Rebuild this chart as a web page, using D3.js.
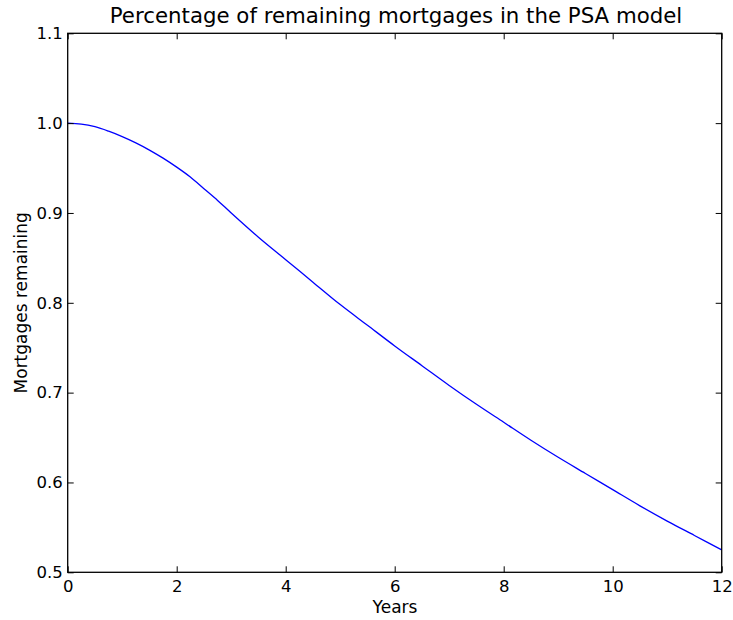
<!DOCTYPE html>
<html>
<head>
<meta charset="utf-8">
<script src="https://cdn.jsdelivr.net/npm/d3@7"></script>
<style>
  html, body { margin: 0; padding: 0; background: #fff; }
  svg { display: block; font-family: "DejaVu Sans", sans-serif; }
</style>
</head>
<body>
<svg id="chart" width="733" height="620"></svg>
<script>
// Share of mortgages still outstanding, by year, under the PSA prepayment model
const years = [0, 0.25, 0.5, 0.75, 1, 1.25, 1.5, 1.75, 2, 2.25, 2.5, 2.75, 3,
               3.5, 4, 4.5, 5, 5.5, 6, 6.5, 7, 7.5, 8, 8.5, 9, 9.5,
               10, 10.5, 11, 11.5, 12];
const remaining = [1.000, 0.999, 0.996, 0.991, 0.985, 0.978, 0.970, 0.961, 0.951, 0.940,
                   0.927, 0.914, 0.900, 0.873, 0.848, 0.823, 0.798, 0.775, 0.752,
                   0.730, 0.708, 0.687, 0.667, 0.647, 0.628, 0.610, 0.592, 0.574,
                   0.557, 0.541, 0.525];
const xTicks = [0, 2, 4, 6, 8, 10, 12];
const yTicks = [0.5, 0.6, 0.7, 0.8, 0.9, 1.0, 1.1];

const svg = d3.select("#chart");
const plotLeft = 67.7, plotRight = 721.7, plotTop = 33.3, plotBottom = 572.3;

const x = d3.scaleLinear().domain([0, 12]).range([plotLeft, plotRight]);
const y = d3.scaleLinear().domain([0.5, 1.1]).range([plotBottom, plotTop]);

// series
const line = d3.line()
  .x((d, i) => x(years[i]))
  .y(d => y(d))
  .curve(d3.curveCatmullRom.alpha(0.5));

svg.append("path")
  .datum(remaining)
  .attr("d", line)
  .attr("fill", "none")
  .attr("stroke", "#0000ff")
  .attr("stroke-width", 1.3);

// axes: ticks point inward on all four sides
const tickLen = 6;
const fmtY = d3.format(".1f");

const bottomAxis = svg.append("g")
  .attr("transform", `translate(0,${plotBottom})`)
  .call(d3.axisBottom(x).tickValues(xTicks).tickSizeInner(-tickLen).tickSizeOuter(0).tickPadding(6).tickFormat(d3.format("d")));
const topAxis = svg.append("g")
  .attr("transform", `translate(0,${plotTop})`)
  .call(d3.axisTop(x).tickValues(xTicks).tickSizeInner(-tickLen).tickSizeOuter(0).tickFormat(""));
const leftAxis = svg.append("g")
  .attr("transform", `translate(${plotLeft},0)`)
  .call(d3.axisLeft(y).tickValues(yTicks).tickSizeInner(-tickLen).tickSizeOuter(0).tickPadding(6).tickFormat(fmtY));
const rightAxis = svg.append("g")
  .attr("transform", `translate(${plotRight},0)`)
  .call(d3.axisRight(y).tickValues(yTicks).tickSizeInner(-tickLen).tickSizeOuter(0).tickFormat(""));

[bottomAxis, topAxis, leftAxis, rightAxis].forEach(g => {
  g.select(".domain").remove();
  g.selectAll(".tick line").attr("stroke", "#000").attr("stroke-width", 1);
  g.selectAll(".tick text")
    .attr("fill", "#000")
    .style("font-family", "'DejaVu Sans', sans-serif")
    .style("font-size", "16.5px");
});
bottomAxis.selectAll(".tick text").attr("dy", 0).attr("y", 19.4);
leftAxis.selectAll(".tick text").attr("x", -5);

// frame
svg.append("rect")
  .attr("x", plotLeft).attr("y", plotTop)
  .attr("width", plotRight - plotLeft).attr("height", plotBottom - plotTop)
  .attr("fill", "none")
  .attr("stroke", "#000")
  .attr("stroke-width", 1.3);

// labels
svg.append("text")
  .attr("x", 396).attr("y", 23)
  .attr("text-anchor", "middle")
  .style("font-size", "21.3px")
  .text("Percentage of remaining mortgages in the PSA model");

svg.append("text")
  .attr("x", 395).attr("y", 612.7)
  .attr("text-anchor", "middle")
  .style("font-size", "17px")
  .text("Years");

svg.append("text")
  .attr("transform", `translate(26.7,${(plotTop + plotBottom) / 2}) rotate(-90)`)
  .attr("text-anchor", "middle")
  .style("font-size", "17px")
  .text("Mortgages remaining");
</script>
</body>
</html>
